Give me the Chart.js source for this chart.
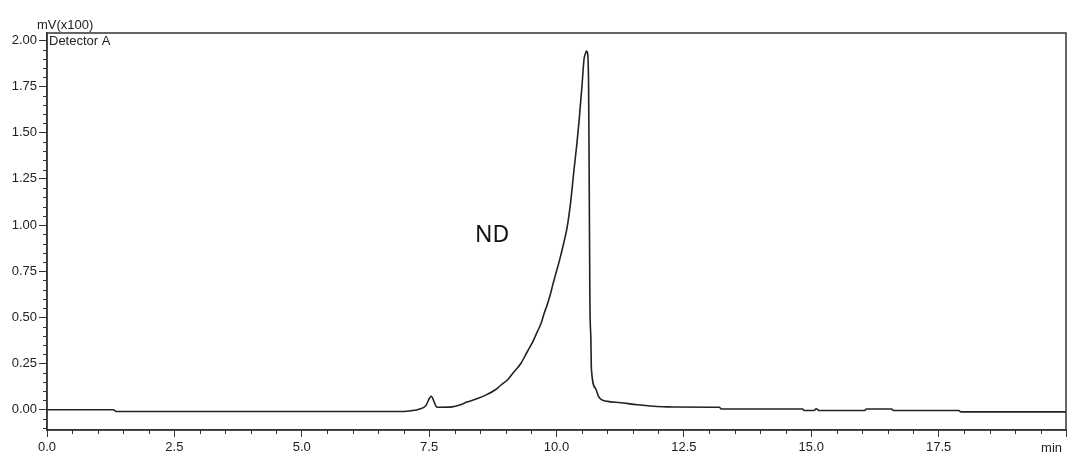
<!DOCTYPE html>
<html>
<head>
<meta charset="utf-8">
<script src="https://cdn.jsdelivr.net/npm/chart.js@4/dist/chart.umd.min.js"></script>
<style>
  html, body { margin: 0; padding: 0; background: #fff; }
  #wrap { width: 1069px; height: 453px; }
</style>
</head>
<body>
<div id="wrap"><canvas id="chrom"></canvas></div>
<script>
// retention time (min) and detector signal (mV x100)
const times = [0, 1.3, 1.36, 7.0, 7.16, 7.3, 7.43, 7.54, 7.65, 7.7, 7.95, 8.1, 8.24, 8.45, 8.64, 8.8, 8.9,
  9.05, 9.16, 9.3, 9.42, 9.52, 9.62, 9.7, 9.75, 9.82, 9.88, 9.93, 9.98, 10.06, 10.14, 10.21, 10.28,
  10.34, 10.4, 10.44, 10.5, 10.54, 10.57, 10.59, 10.61, 10.63, 10.64, 10.655, 10.675, 10.685, 10.77,
  10.82, 10.86, 10.92, 11.0, 11.26, 11.59, 12.17, 13.2, 13.23, 14.83, 14.86, 15.05, 15.1, 15.15,
  16.05, 16.08, 16.58, 16.61, 17.9, 17.93, 20];
const signal = [0, 0, -0.01, -0.01, -0.005, 0.003, 0.02, 0.072, 0.015, 0.013, 0.015, 0.025, 0.041, 0.06, 0.083, 0.108, 0.131,
  0.165, 0.203, 0.25, 0.311, 0.36, 0.42, 0.47, 0.515, 0.57, 0.625, 0.68, 0.73, 0.81, 0.9, 0.99, 1.13,
  1.29, 1.44, 1.555, 1.753, 1.897, 1.93, 1.942, 1.93, 1.753, 1.34, 0.6, 0.38, 0.22, 0.113,
  0.075, 0.059, 0.05, 0.045, 0.038, 0.027, 0.015, 0.013, 0.004, 0.004, -0.004, -0.004, 0.005, -0.004,
  -0.004, 0.004, 0.004, -0.004, -0.004, -0.012, -0.012];

const xRange = [0, 20];
const yRange = [-0.11, 2.04];
const xMajorStep = 2.5, xMinorStep = 0.5;
const yMajorStep = 0.25, yMinorStep = 0.05;

const axisColor = "#333";
const textColor = "#222";
const tickFont = { family: "Liberation Sans, Arial, sans-serif", size: 13 };

// frame, minor ticks and annotations
const extras = {
    id: "extras",
    afterDraw(chart) {
        const ctx = chart.ctx;
        const a = chart.chartArea;
        const xs = chart.scales.x, ys = chart.scales.y;
        ctx.save();
        ctx.strokeStyle = axisColor;
        ctx.lineWidth = 1.5;
        ctx.strokeRect(a.left, a.top, a.right - a.left, a.bottom - a.top);

        ctx.lineWidth = 1;
        ctx.beginPath();
        for (let i = Math.ceil(xRange[0] / xMinorStep); i * xMinorStep <= xRange[1]; i++) {
            if (i % 5 === 0) continue;
            const px = Math.round(xs.getPixelForValue(i * xMinorStep)) + 0.5;
            ctx.moveTo(px, a.bottom);
            ctx.lineTo(px, a.bottom + 4);
        }
        for (let i = Math.ceil(yRange[0] / yMinorStep); i * yMinorStep <= yRange[1]; i++) {
            if (i % 5 === 0) continue;
            const py = Math.round(ys.getPixelForValue(i * yMinorStep)) + 0.5;
            ctx.moveTo(a.left - 4, py);
            ctx.lineTo(a.left, py);
        }
        ctx.stroke();

        ctx.fillStyle = textColor;
        ctx.font = "13px Liberation Sans, Arial, sans-serif";
        ctx.textBaseline = "alphabetic";
        ctx.textAlign = "left";
        ctx.fillText("mV(x100)", 37, 29);
        ctx.fillText("Detector A", 49, 45);
        ctx.textAlign = "right";
        ctx.fillText("min", a.right - 4, 452);

        ctx.fillStyle = "#111";
        ctx.font = "23px Noto Sans, sans-serif";
        ctx.textAlign = "left";
        ctx.fillText("ND", 475, 242);
        ctx.restore();
    }
};

new Chart(document.getElementById("chrom"), {
    type: "line",
    data: {
        datasets: [{
            data: times.map((t, i) => ({ x: t, y: signal[i] })),
            borderColor: "#222",
            borderWidth: 1.6,
            pointRadius: 0,
            cubicInterpolationMode: "monotone",
            fill: false
        }]
    },
    options: {
        responsive: true,
        maintainAspectRatio: false,
        animation: false,
        layout: { padding: { top: 33, right: 2, left: 0, bottom: 0 } },
        plugins: {
            legend: { display: false },
            tooltip: { enabled: false }
        },
        scales: {
            x: {
                type: "linear",
                min: xRange[0],
                max: xRange[1],
                afterFit: (s) => { s.height = 23; },
                border: { display: true, color: axisColor, width: 1.5 },
                grid: { drawOnChartArea: false, tickLength: 7, color: axisColor },
                ticks: {
                    stepSize: xMajorStep,
                    autoSkip: false,
                    maxRotation: 0,
                    padding: 3,
                    color: textColor,
                    font: tickFont,
                    callback: (v) => (v >= xRange[1] ? "" : v.toFixed(1))
                }
            },
            y: {
                min: yRange[0],
                max: yRange[1],
                afterFit: (s) => { s.width = 47; },
                border: { display: true, color: axisColor, width: 1.5 },
                grid: { drawOnChartArea: false, tickLength: 8, color: axisColor },
                ticks: {
                    stepSize: yMajorStep,
                    includeBounds: false,
                    padding: 2,
                    color: textColor,
                    font: tickFont,
                    callback: (v) => v.toFixed(2)
                }
            }
        }
    },
    plugins: [extras]
});
</script>
</body>
</html>
